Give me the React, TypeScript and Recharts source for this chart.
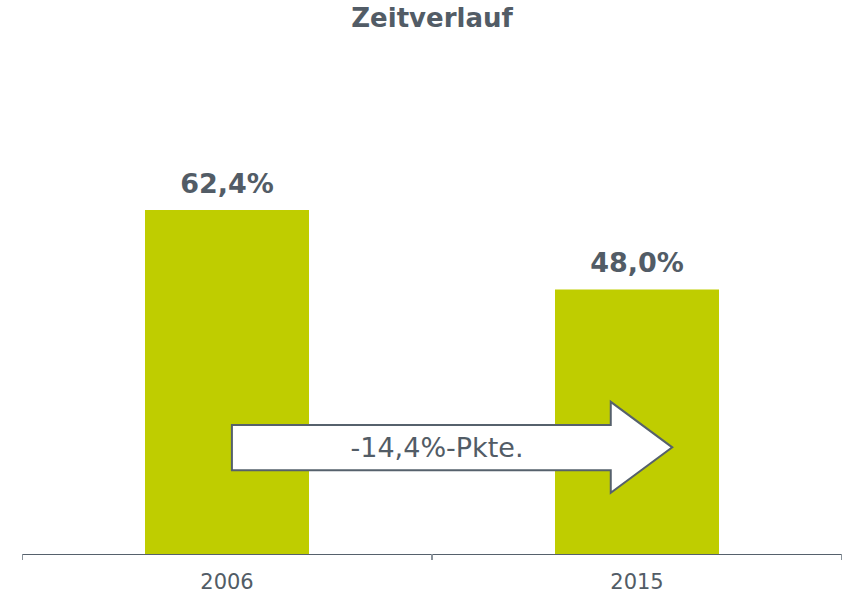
import React from 'react';
import { BarChart, Bar, XAxis, YAxis, LabelList, ReferenceArea } from 'recharts';

const years = ['2006', '2015'];
const shares = [62.4, 48.0];
const changeLabel = '-14,4%-Pkte.';
// arrow vertical extent in data units (head and body)
const arrowHead = [11.1, 27.6];
const arrowBody = [15.2, 23.4];

const data = years.map((y, i) => ({ year: y, value: shares[i] }));

const TEXT = '#525c66';
const BAR = '#bfcd00';
const AXIS = '#56616c';
const TICK = '#8a939b';
const FONT = '"DejaVu Sans", Verdana, sans-serif';
const TICK_SIZE = 6;
const TICK_MARGIN = 14;

const fmt = (v: number) => v.toFixed(1).replace('.', ',') + '%';

const AxisTick = (props: any) => {
  const { x, y, payload } = props;
  const half = payload && payload.offset ? payload.offset : 0;
  const axisY = y - TICK_SIZE - TICK_MARGIN;
  return (
    <g>
      <line x1={x - half + 0.5} x2={x - half + 0.5} y1={axisY} y2={axisY + TICK_SIZE} stroke={TICK} strokeWidth={1} />
      <line x1={x + half - 0.5} x2={x + half - 0.5} y1={axisY} y2={axisY + TICK_SIZE} stroke={TICK} strokeWidth={1} />
      <text x={x} y={y} dy="0.71em" textAnchor="middle" fill={TEXT} fontSize={21} fontFamily={FONT}>
        {payload.value}
      </text>
    </g>
  );
};

const ArrowShape = (props: any) => {
  const { x, y, width, height } = props;
  const x0 = x + width * 0.256;
  const xh = x + width * 0.718;
  const xt = x + width * 0.793;
  const headSpan = arrowHead[1] - arrowHead[0];
  const pxPer = height / headSpan;
  const bTop = y + (arrowHead[1] - arrowBody[1]) * pxPer;
  const bBot = y + (arrowHead[1] - arrowBody[0]) * pxPer;
  const mid = y + height / 2;
  const d = `M${x0},${bTop} L${xh},${bTop} L${xh},${y} L${xt},${mid} L${xh},${y + height} L${xh},${bBot} L${x0},${bBot} Z`;
  return (
    <g>
      <path d={d} fill="#ffffff" stroke={AXIS} strokeWidth={2} strokeLinejoin="miter" />
      <text x={437} y={(bTop + bBot) / 2 + 9} textAnchor="middle" fill={TEXT} fontSize={27} fontFamily={FONT}>
        {changeLabel}
      </text>
    </g>
  );
};

export default function App() {
  return (
    <div style={{ position: 'absolute', left: 0, top: 0, width: 848, height: 594 }}>
      <div
        style={{
          position: 'absolute', left: 22, width: 820, top: 3, textAlign: 'center',
          fontFamily: FONT, fontWeight: 'bold', fontSize: 26, color: TEXT,
        }}
      >
        Zeitverlauf
      </div>
      <BarChart
        width={848}
        height={594}
        data={data}
        margin={{ top: 113, right: 6, bottom: 0, left: 22 }}
        barCategoryGap="30%"
      >
        <XAxis
          dataKey="year"
          height={40}
          axisLine={{ stroke: AXIS, strokeWidth: 1, transform: 'translate(0,0.5)' }}
          tickLine={false}
          tickSize={TICK_SIZE}
          tickMargin={TICK_MARGIN}
          tick={AxisTick}
        />
        <YAxis hide domain={[0, 80]} />
        <Bar dataKey="value" fill={BAR} isAnimationActive={false}>
          <LabelList
            dataKey="value"
            position="top"
            offset={17}
            formatter={(v: any) => fmt(Number(v))}
            style={{ fill: TEXT, fontSize: 27, fontWeight: 'bold', fontFamily: FONT }}
          />
        </Bar>
        <ReferenceArea
          y1={arrowHead[0]}
          y2={arrowHead[1]}
          shape={ArrowShape}
          ifOverflow="visible"
          zIndex={1000}
        />
      </BarChart>
    </div>
  );
}
